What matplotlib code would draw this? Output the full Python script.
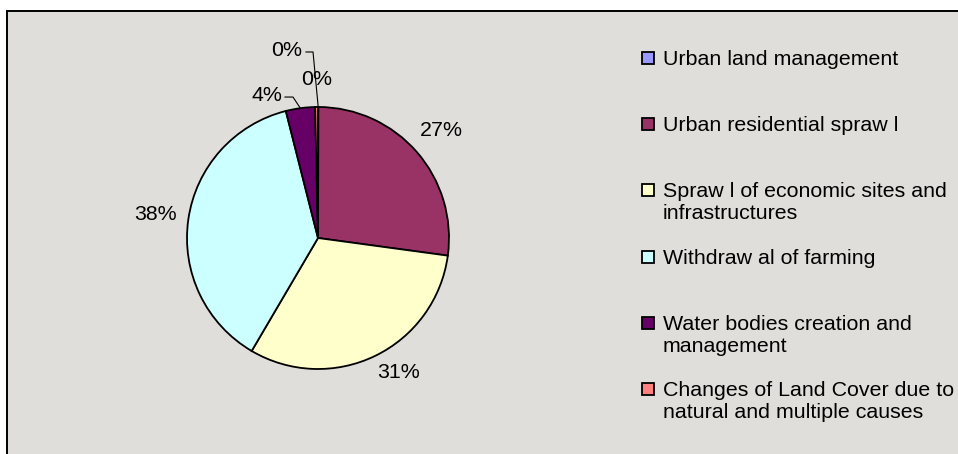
import matplotlib
matplotlib.use('Agg')
import numpy as np
import matplotlib.pyplot as plt
from matplotlib.patches import Rectangle

# data (percent of total)
categories = ['Urban land management',
              'Urban residential spraw l',
              'Spraw l of economic sites and\ninfrastructures',
              'Withdraw al of farming',
              'Water bodies creation and\nmanagement',
              'Changes of Land Cover due to\nnatural and multiple causes']
shares = [0.05, 27.1, 31.3, 37.6, 3.6, 0.35]
colors = ['#9999FF', '#993366', '#FFFFCC', '#CCFFFF', '#660066', '#FF8080']

W, H = 958, 454
cx, cy, R = 318, 238, 131   # pie centre and radius, pixels from top-left

plt.rcParams['font.family'] = ['Liberation Sans', 'DejaVu Sans']
fig = plt.figure(figsize=(W / 100, H / 100), dpi=100, facecolor='white')
ax = fig.add_axes([0, 0, 1, 1])

# grey chart area with black frame (right/bottom edge run off the picture)
ax.add_patch(Rectangle((7 / W, -0.05), 1.0, (H - 11) / H + 0.05, transform=ax.transAxes,
                       facecolor='#E0DEDA', edgecolor='black', lw=1.4, zorder=0, clip_on=False))

wedges, _ = ax.pie(shares, colors=colors, startangle=90, counterclock=False,
                   wedgeprops=dict(edgecolor='black', linewidth=1.3))
ax.set_xlim(-cx / R, (W - cx) / R)
ax.set_ylim(-(H - cy) / R, cy / R)
ax.axis('off')

# labels; the tiny slices get hand-placed labels with leader lines
small_pos = {0: (-0.24, 1.435), 4: (-0.39, 1.09), 5: (-0.01, 1.21)}
leader = {0: [(-0.092, 1.42), (-0.038, 1.42)], 4: [(-0.252, 1.076), (-0.191, 1.076)]}
nudge = {2: (5, 5)}   # excel's best-fit shift, in degrees / hundredths of radius
for i, (w, v) in enumerate(zip(wedges, shares)):
    mid = np.deg2rad((w.theta1 + w.theta2) / 2)
    lab = '%d%%' % round(v)
    if i in small_pos:
        x, y = small_pos[i]
    else:
        da, dr = nudge.get(i, (0, 0))
        a = mid + np.deg2rad(da)
        x, y = (1.25 - dr / 100) * np.cos(a), (1.25 - dr / 100) * np.sin(a)
    ax.text(x, y, lab, ha='center', va='center', fontsize=15.4)
    if i in leader:
        pts = leader[i] + [(np.cos(mid), np.sin(mid))]
        ax.plot([p[0] for p in pts], [p[1] for p in pts], color='black', lw=0.8)

# legend, entries spaced evenly like Excel does
for i, (lab, col) in enumerate(zip(categories, colors)):
    y = 58 + i * 66.2
    ax.add_patch(Rectangle((642 / W, 1 - (y + 6) / H), 12 / W, 12 / H, transform=ax.transAxes,
                           facecolor=col, edgecolor='black', lw=1.3))
    ax.text(663 / W, 1 - (y - 8) / H, lab, transform=ax.transAxes, ha='left', va='top',
            fontsize=15.4, linespacing=1.2)

fig.savefig('out.png', dpi=100, facecolor='white')
